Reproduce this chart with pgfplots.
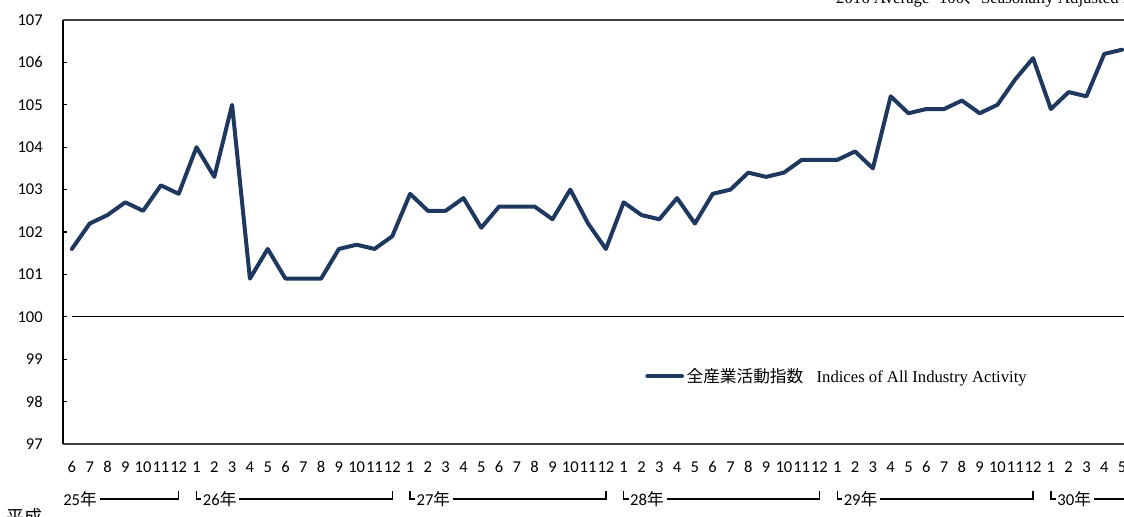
\documentclass[border=0pt]{standalone}
\usepackage{fontspec}
\setmainfont{Liberation Serif}
\newfontfamily\cjk{Noto Sans CJK JP}
\newfontfamily\calfont{Carlito}
\usepackage{pgfplots}
\pgfplotsset{compat=1.18}
\definecolor{navy}{RGB}{31,56,96}
\definecolor{axgray}{RGB}{64,64,64}

\begin{document}
\begin{tikzpicture}
\begin{axis}[
  at={(47.25pt,54.75pt)}, anchor=south west,
  scale only axis, width=802.3pt, height=318pt,
  xmin=-0.5, xmax=59.6, ymin=97, ymax=107,
  clip=false,
  separate axis lines,
  x axis line style={axgray, line width=1.4pt},
  y axis line style={black, line width=1.4pt},
  ytick={97,...,107}, ytick pos=left,
  tick align=inside, major tick length=3pt,
  tick style={black, line width=0.8pt},
  xtick={0,...,59}, xtick style={draw=none},
  xticklabels={6,7,8,9,10,11,12,1,2,3,4,5,6,7,8,9,10,11,12,1,2,3,4,5,6,7,8,9,10,11,12,1,2,3,4,5,6,7,8,9,10,11,12,1,2,3,4,5,6,7,8,9,10,11,12,1,2,3,4,5},
  /pgf/number format/assume math mode=true,
  /pgf/number format/1000 sep={},
  ticklabel style={font=\calfont\fontsize{12.4}{14}\selectfont, inner sep=0pt},
  yticklabel style={anchor=east, xshift=-15pt},
  xticklabel style={anchor=center, yshift=-17.25pt},
  legend style={at={(axis cs:32.2,98.6)}, anchor=west, draw=none, fill=none,
    inner xsep=0pt, font=\fontsize{12.5}{14}\selectfont},
  legend cell align=left,
  legend image code/.code={\draw[#1] (0pt,0pt) -- (26pt,0pt);},
]
\addplot[black, line width=0.8pt, forget plot] coordinates {(0,100) (59.6,100)};
\addplot[navy, line width=3pt, line join=round, line cap=round] coordinates {
(0,101.6) (1,102.2) (2,102.4) (3,102.7) (4,102.5) (5,103.1) (6,102.9)
(7,104.0) (8,103.3) (9,105.0) (10,100.9) (11,101.6) (12,100.9) (13,100.9)
(14,100.9) (15,101.6) (16,101.7) (17,101.6) (18,101.9)
(19,102.9) (20,102.5) (21,102.5) (22,102.8) (23,102.1) (24,102.6) (25,102.6)
(26,102.6) (27,102.3) (28,103.0) (29,102.2) (30,101.6)
(31,102.7) (32,102.4) (33,102.3) (34,102.8) (35,102.2) (36,102.9) (37,103.0)
(38,103.4) (39,103.3) (40,103.4) (41,103.7) (42,103.7)
(43,103.7) (44,103.9) (45,103.5) (46,105.2) (47,104.8) (48,104.9) (49,104.9)
(50,105.1) (51,104.8) (52,105.0) (53,105.6) (54,106.1)
(55,104.9) (56,105.3) (57,105.2) (58,106.2) (59,106.3)};
\addlegendentry{{\cjk 全産業活動指数}\hspace{0.8em}Indices of All Industry Activity}

% title (cut off by the page edge, as in the source)
\node[anchor=base west, inner sep=0pt, font=\fontsize{12.6}{15}\selectfont]
  at (axis cs:42.92,107.4) {2016 Average=100{\cjk 、}Seasonally Adjusted Index};

% year brackets
\tikzset{yr/.style={anchor=west, inner sep=0pt, font=\fontsize{12.5}{14}\selectfont},
         yrline/.style={black, line width=1pt}}
\node[yr] (y25) at (axis cs:-0.5,95.703) {{\calfont 25}{\cjk 年}};
\draw[yrline] ([xshift=2pt]y25.east) -| (axis cs:6,95.9);
\node[yr] (y26) at (axis cs:7.35,95.703) {{\calfont 26}{\cjk 年}};
\draw[yrline] (axis cs:7,95.9) |- ([xshift=-1pt]y26.west);
\draw[yrline] ([xshift=2pt]y26.east) -| (axis cs:18,95.9);
\node[yr] (y27) at (axis cs:19.35,95.703) {{\calfont 27}{\cjk 年}};
\draw[yrline] (axis cs:19,95.9) |- ([xshift=-1pt]y27.west);
\draw[yrline] ([xshift=2pt]y27.east) -| (axis cs:30,95.9);
\node[yr] (y28) at (axis cs:31.35,95.703) {{\calfont 28}{\cjk 年}};
\draw[yrline] (axis cs:31,95.9) |- ([xshift=-1pt]y28.west);
\draw[yrline] ([xshift=2pt]y28.east) -| (axis cs:42,95.9);
\node[yr] (y29) at (axis cs:43.35,95.703) {{\calfont 29}{\cjk 年}};
\draw[yrline] (axis cs:43,95.9) |- ([xshift=-1pt]y29.west);
\draw[yrline] ([xshift=2pt]y29.east) -| (axis cs:54,95.9);
\node[yr] (y30) at (axis cs:55.35,95.703) {{\calfont 30}{\cjk 年}};
\draw[yrline] (axis cs:55,95.9) |- ([xshift=-1pt]y30.west);
\draw[yrline] ([xshift=2pt]y30.east) -- ([xshift=80pt]y30.east);

\node[anchor=north west, inner sep=0pt, font=\cjk\fontsize{13.5}{15}\selectfont]
  at (axis cs:-3.7,95.49) {平成};
\end{axis}
\pgfresetboundingbox
\useasboundingbox (0,0) rectangle (843pt,387.75pt);
\end{tikzpicture}
\end{document}
